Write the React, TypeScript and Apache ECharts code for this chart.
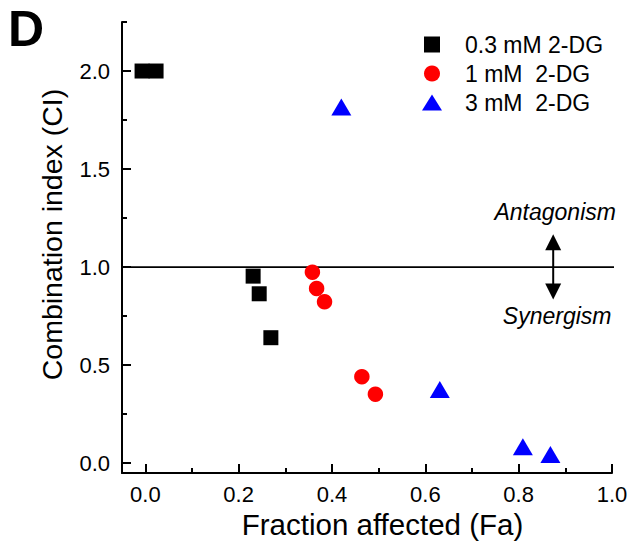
import React, { useEffect, useRef } from "react";
import * as echarts from "echarts";

const seriesNames = ["0.3 mM 2-DG", "1 mM  2-DG", "3 mM  2-DG"];
const fa03 = [-0.007, 0.023, 0.231, 0.244, 0.269];
const ci03 = [2.0, 2.0, 0.954, 0.864, 0.64];
const fa1 = [0.358, 0.367, 0.384, 0.464, 0.493];
const ci1 = [0.974, 0.891, 0.823, 0.441, 0.352];
const fa3 = [0.42, 0.631, 0.809, 0.868];
const ci3 = [1.817, 0.376, 0.084, 0.044];
const xMajorTicks = [0, 0.2, 0.4, 0.6, 0.8, 1.0];
const xMinorTicks = [0.1, 0.3, 0.5, 0.7, 0.9];
const yMajorTicks = [0, 0.5, 1.0, 1.5, 2.0];
const yMinorTicks = [0.25, 0.75, 1.25, 1.75, 2.25];
const xRange = [-0.05, 1.0];
const yRange = [-0.05, 2.25];
const refCI = 1.0;
const refLineFa = [-0.05, 1.01];
const arrowFa = 0.874;
const arrowCI = [1.167, 0.835];
const panelLabel = "D";
const upperNote = "Antagonism";
const lowerNote = "Synergism";

const FONT = "'Liberation Sans', Arial, Helvetica, sans-serif";

const zip = (xs: number[], ys: number[]) => xs.map((x, i) => [x, ys[i]]);

export default function App() {
  const ref = useRef<HTMLDivElement>(null);
  useEffect(() => {
    if (!ref.current) return;
    document.body.style.margin = "0";
    const chart = echarts.init(ref.current, null, { renderer: "svg" });
    const axisLineStyle = { color: "#000", width: 2 };
    const option: any = {
      animation: false,
      backgroundColor: "#fff",
      textStyle: { fontFamily: FONT, color: "#000" },
      grid: { left: 122, right: 25, top: 22, bottom: 76 },
      legend: {
        orient: "vertical",
        left: 422,
        top: 33,
        padding: 0,
        itemWidth: 20,
        itemHeight: 16,
        itemGap: 6,
        textStyle: { fontSize: 23, color: "#000", fontFamily: FONT, lineHeight: 22, padding: [0, 0, 0, 18] },
        data: [
          { name: seriesNames[0], icon: "path://M0,0h10v10h-10z" },
          { name: seriesNames[1], icon: "circle" },
          { name: seriesNames[2], icon: "triangle" },
        ],
      },
      xAxis: [
        {
          type: "value",
          min: xRange[0],
          max: xRange[1],
          name: "Fraction affected (Fa)",
          nameLocation: "middle",
          nameGap: 19,
          nameTextStyle: { fontSize: 29.5, color: "#000", fontFamily: FONT, padding: [0, 0, 0, 31] },
          axisLine: { show: true, onZero: false, lineStyle: axisLineStyle },
          axisTick: { show: true, inside: true, length: 9, customValues: xMajorTicks, lineStyle: axisLineStyle },
          axisLabel: {
            show: true,
            customValues: xMajorTicks,
            formatter: (v: number) => v.toFixed(1),
            fontSize: 22,
            color: "#000",
            fontFamily: FONT,
            margin: 10,
          },
          splitLine: { show: false },
        },
        {
          type: "value",
          min: xRange[0],
          max: xRange[1],
          position: "bottom",
          axisLine: { show: false, onZero: false },
          axisTick: { show: true, inside: true, length: 5, customValues: xMinorTicks, lineStyle: axisLineStyle },
          axisLabel: { show: false },
          splitLine: { show: false },
        },
      ],
      yAxis: [
        {
          type: "value",
          min: yRange[0],
          max: yRange[1],
          name: "Combination index (CI)",
          nameLocation: "middle",
          nameGap: 56,
          nameTextStyle: { fontSize: 28.5, color: "#000", fontFamily: FONT, padding: [0, 0, 0, 26] },
          axisLine: { show: true, onZero: false, lineStyle: axisLineStyle },
          axisTick: { show: true, inside: true, length: 9, customValues: yMajorTicks, lineStyle: axisLineStyle },
          axisLabel: {
            show: true,
            customValues: yMajorTicks,
            formatter: (v: number) => v.toFixed(1),
            fontSize: 22,
            color: "#000",
            fontFamily: FONT,
            margin: 12,
          },
          splitLine: { show: false },
        },
        {
          type: "value",
          min: yRange[0],
          max: yRange[1],
          position: "left",
          axisLine: { show: false, onZero: false },
          axisTick: { show: true, inside: true, length: 5, customValues: yMinorTicks, lineStyle: axisLineStyle },
          axisLabel: { show: false },
          splitLine: { show: false },
        },
      ],
      series: [
        {
          type: "line",
          data: refLineFa.map((x) => [x, refCI]),
          symbol: "none",
          clip: false,
          silent: true,
          lineStyle: { color: "#000", width: 1.6 },
          z: 1,
        },
        {
          name: seriesNames[0],
          type: "scatter",
          data: zip(fa03, ci03),
          symbol: "rect",
          symbolSize: 15,
          itemStyle: { color: "#000", opacity: 1 },
          z: 3,
        },
        {
          name: seriesNames[1],
          type: "scatter",
          data: zip(fa1, ci1),
          symbol: "circle",
          symbolSize: 15.5,
          itemStyle: { color: "#ff0000", opacity: 1 },
          z: 3,
        },
        {
          name: seriesNames[2],
          type: "scatter",
          data: zip(fa3, ci3),
          symbol: "triangle",
          symbolSize: [20, 17],
          itemStyle: { color: "#0000ff", opacity: 1 },
          z: 3,
        },
      ],
    };
    chart.setOption(option);

    const finder = { xAxisIndex: 0, yAxisIndex: 0 };
    const top = chart.convertToPixel(finder, [arrowFa, arrowCI[0]]) as number[];
    const bot = chart.convertToPixel(finder, [arrowFa, arrowCI[1]]) as number[];
    const ax = top[0];
    const hw = 8;
    const hh = 16;
    chart.setOption({
      graphic: [
        {
          type: "text",
          left: 8,
          top: 4,
          style: { text: panelLabel, font: `bold 50px ${FONT}`, fill: "#000" },
        },
        {
          type: "line",
          shape: { x1: ax, y1: top[1] + hh - 2, x2: ax, y2: bot[1] - hh + 2 },
          style: { stroke: "#000", lineWidth: 2 },
        },
        {
          type: "polygon",
          shape: { points: [[ax, top[1]], [ax - hw, top[1] + hh], [ax + hw, top[1] + hh]] },
          style: { fill: "#000" },
        },
        {
          type: "polygon",
          shape: { points: [[ax, bot[1]], [ax - hw, bot[1] - hh], [ax + hw, bot[1] - hh]] },
          style: { fill: "#000" },
        },
        {
          type: "text",
          x: ax + 2,
          y: top[1] - 22,
          style: {
            text: upperNote,
            font: `italic 23px ${FONT}`,
            fill: "#000",
            textAlign: "center",
            textVerticalAlign: "middle",
          },
        },
        {
          type: "text",
          x: ax + 4,
          y: bot[1] + 17,
          style: {
            text: lowerNote,
            font: `italic 23px ${FONT}`,
            fill: "#000",
            textAlign: "center",
            textVerticalAlign: "middle",
          },
        },
      ],
    });

    return () => chart.dispose();
  }, []);
  return <div ref={ref} style={{ width: 637, height: 549 }} />;
}
